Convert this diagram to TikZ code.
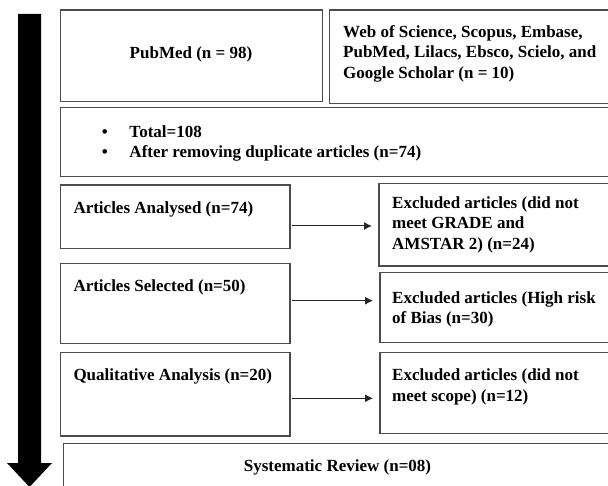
\documentclass[tikz,border=0pt]{standalone}
\usepackage{fontspec}
\setmainfont{Liberation Serif}
\usetikzlibrary{arrows.meta}
\begin{document}
\begin{tikzpicture}[x=1pt,y=-1pt,
  box/.style={draw=black!70, line width=1.3pt, inner sep=0pt, outer sep=0pt, anchor=north west},
  txt/.style={font=\fontsize{17}{20.5}\selectfont\bfseries, inner sep=0pt, anchor=base west, align=left},
  link/.style={draw=black!85, line width=1pt, -{Latex[length=8pt,width=8pt]}, shorten <=2pt, shorten >=7pt}]
\useasboundingbox (0,0) rectangle (608,486);
\clip (0,0) rectangle (608,486);
% big process arrow
\fill[black] (18,14) -- (41,14) -- (41,463) -- (52,463) -- (29.5,487) -- (7,463) -- (18,463) -- cycle;
% boxes
\node[box, minimum width=262pt, minimum height=91.7pt] (b1) at (60.7,10) {};
\node[box, minimum width=310pt, minimum height=93.3pt] (b2) at (329.3,10) {};
\node[box, minimum width=580pt, minimum height=69.4pt] (b3) at (60.7,107.3) {};
\node[box, minimum width=229.3pt, minimum height=63.3pt] (b4) at (60.7,185) {};
\node[box, minimum width=229.3pt, minimum height=80pt] (b5) at (60.7,263.3) {};
\node[box, minimum width=229.3pt, minimum height=83.3pt] (b6) at (60.7,352.7) {};
\node[box, minimum width=260pt, minimum height=82.7pt] (e1) at (379,183.3) {};
\node[box, minimum width=260pt, minimum height=70pt] (e2) at (380,272.7) {};
\node[box, minimum width=260pt, minimum height=81pt] (e3) at (380,352.3) {};
\node[box, minimum width=580pt, minimum height=60pt] (b7) at (63.3,443.3) {};
% texts (base anchor of a multi-line node = baseline of its last line)
\node[txt, anchor=base] (t1) at (191,58.3) {PubMed (n = 98)};
\node[txt] (t2) at (343,78.5) {Web of Science, Scopus, Embase,\\PubMed, Lilacs, Ebsco, Scielo, and\\Google Scholar (n = 10)};
\node[txt] (t3) at (101.7,158) {\makebox[27.6pt][l]{\textbullet}Total=108\\\makebox[27.6pt][l]{\textbullet}After removing duplicate articles (n=74)};
\node[txt] (t4) at (73.3,213.3) {Articles Analysed (n=74)};
\node[txt] (t5) at (73.3,291.7) {Articles Selected (n=50)};
\node[txt] (t6) at (73.3,381) {Qualitative Analysis (n=20)};
\node[txt] (t7) at (392,249.5) {Excluded articles (did not\\meet GRADE and\\AMSTAR 2) (n=24)};
\node[txt] (t8) at (392,324) {Excluded articles (High risk\\of Bias (n=30)};
\node[txt] (t9) at (392,401) {Excluded articles (did not\\meet scope) (n=12)};
\node[txt, anchor=base] (t10) at (337.5,471.7) {Systematic Review (n=08)};
% connectors
\draw[link] (b4.east |- 0,226) -- (e1.west |- 0,226);
\draw[link] (b5.east |- 0,300.7) -- (e2.west |- 0,300.7);
\draw[link] (b6.east |- 0,398.3) -- (e3.west |- 0,398.3);
\end{tikzpicture}
\end{document}
